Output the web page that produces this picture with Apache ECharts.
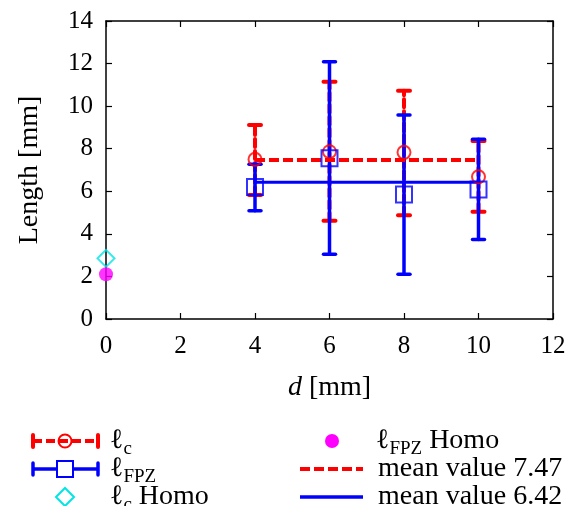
<!DOCTYPE html>
<html>
<head>
<meta charset="utf-8">
<script src="https://cdn.jsdelivr.net/npm/echarts@6/dist/echarts.min.js"></script>
<style>
html, body { margin: 0; padding: 0; background: #fff; }
#chart { width: 569px; height: 506px; }
</style>
</head>
<body>
<div id="chart"></div>
<script>
// spacing d [mm]
var positions = [4, 6, 8, 10];

// l_c : mean / upper / lower
var lcValue = [7.50, 7.86, 7.83, 6.68];
var lcHigh = [9.11, 11.15, 10.72, 8.36];
var lcLow = [5.82, 4.62, 4.88, 5.04];

// l_FPZ : mean / upper / lower
var fpzValue = [6.20, 7.55, 5.85, 6.08];
var fpzHigh = [7.27, 12.09, 9.58, 8.44];
var fpzLow = [5.09, 3.04, 2.10, 3.74];

// homogeneous results at d = 0
var lcHomo = [[0, 2.85]];
var fpzHomo = [[0, 2.10]];

// mean values
var lcMean = 7.47;
var fpzMean = 6.42;

var xTicks = [0, 12, 2];
var yTicks = [0, 14, 2];

var FONT = '"Liberation Serif", "DejaVu Serif", serif';
var RED = '#ff0000', BLUE = '#0000ff', CYAN = '#00e5e5', MAGENTA = '#ff00ff';

var chart = echarts.init(document.getElementById('chart'));

function zip3(a, b) {
    var out = [];
    for (var i = 0; i < positions.length; i++) {
        out.push([positions[i], a[i], b[i]]);
    }
    return out;
}
function zip2(a) {
    var out = [];
    for (var i = 0; i < positions.length; i++) {
        out.push([positions[i], a[i]]);
    }
    return out;
}

// vertical error bar with caps
function errorBar(color, width, dash) {
    return function (params, api) {
        var x = api.value(0);
        var lo = api.coord([x, api.value(1)]);
        var hi = api.coord([x, api.value(2)]);
        var half = 6;
        var base = {stroke: color, lineWidth: width, lineCap: 'round'};
        return {
            type: 'group',
            children: [
                {type: 'line', shape: {x1: lo[0], y1: lo[1], x2: hi[0], y2: hi[1]},
                    style: Object.assign({lineDash: dash}, base)},
                {type: 'line', shape: {x1: lo[0] - half, y1: lo[1], x2: lo[0] + half, y2: lo[1]},
                    style: Object.assign({}, base)},
                {type: 'line', shape: {x1: hi[0] - half, y1: hi[1], x2: hi[0] + half, y2: hi[1]},
                    style: Object.assign({}, base)}
            ]
        };
    };
}

function axisCommon(extra) {
    return Object.assign({
        type: 'value',
        splitLine: {show: false},
        axisLine: {show: true, onZero: false, lineStyle: {color: '#000', width: 1.5}},
        axisTick: {show: true, inside: true, length: 6, lineStyle: {color: '#000', width: 1.2}},
        axisLabel: {show: false}
    }, extra);
}

var labelStyle = {show: true, color: '#000', fontFamily: FONT, fontSize: 25};

// legend drawn by hand (error-bar style icons)
var legendText = {
    a: {fontFamily: FONT, fontSize: 28, color: '#000', verticalAlign: 'middle', lineHeight: 36},
    s: {fontFamily: FONT, fontSize: 19, color: '#000', verticalAlign: 'bottom', lineHeight: 19}
};
function legendLabel(x, y, text) {
    return {type: 'text', x: x, y: y,
        style: {text: text, rich: legendText, verticalAlign: 'middle', align: 'left'}};
}
var r1 = 441, r2 = 469, r3 = 497;
var c1a = 33, c1b = 98, c1m = 65, c2a = 300, c2b = 363, c2m = 332;
var graphics = [
    // l_c
    {type: 'line', shape: {x1: c1a, y1: r1, x2: c1b, y2: r1}, style: {stroke: RED, lineWidth: 4, lineDash: [9, 4]}},
    {type: 'line', shape: {x1: c1a, y1: r1 - 6, x2: c1a, y2: r1 + 6}, style: {stroke: RED, lineWidth: 4, lineCap: 'round'}},
    {type: 'line', shape: {x1: c1b, y1: r1 - 6, x2: c1b, y2: r1 + 6}, style: {stroke: RED, lineWidth: 4, lineCap: 'round'}},
    {type: 'circle', shape: {cx: c1m, cy: r1, r: 6.5}, style: {fill: 'none', stroke: RED, lineWidth: 2}},
    legendLabel(110, r1, '{a|ℓ}{s|c}'),
    // l_FPZ
    {type: 'line', shape: {x1: c1a, y1: r2, x2: c1b, y2: r2}, style: {stroke: BLUE, lineWidth: 3.5}},
    {type: 'line', shape: {x1: c1a, y1: r2 - 6, x2: c1a, y2: r2 + 6}, style: {stroke: BLUE, lineWidth: 3.5, lineCap: 'round'}},
    {type: 'line', shape: {x1: c1b, y1: r2 - 6, x2: c1b, y2: r2 + 6}, style: {stroke: BLUE, lineWidth: 3.5, lineCap: 'round'}},
    {type: 'rect', shape: {x: c1m - 8, y: r2 - 8, width: 16, height: 16}, style: {fill: '#fff', stroke: BLUE, lineWidth: 2}},
    legendLabel(110, r2, '{a|ℓ}{s|FPZ}'),
    // l_c Homo
    {type: 'polygon', shape: {points: [[c1m, r3 - 9], [c1m + 9, r3], [c1m, r3 + 9], [c1m - 9, r3]]}, style: {fill: 'none', stroke: CYAN, lineWidth: 2}},
    legendLabel(110, r3, '{a|ℓ}{s|c}{a| Homo}'),
    // l_FPZ Homo
    {type: 'circle', shape: {cx: c2m, cy: r1, r: 7}, style: {fill: MAGENTA}},
    legendLabel(376, r1, '{a|ℓ}{s|FPZ}{a| Homo}'),
    // means
    {type: 'line', shape: {x1: c2a, y1: r2, x2: c2b, y2: r2}, style: {stroke: RED, lineWidth: 4, lineDash: [10, 4]}},
    legendLabel(378, r2, '{a|mean value ' + lcMean.toFixed(2) + '}'),
    {type: 'line', shape: {x1: c2a, y1: r3, x2: c2b, y2: r3}, style: {stroke: BLUE, lineWidth: 3.5}},
    legendLabel(378, r3, '{a|mean value ' + fpzMean.toFixed(2) + '}')
];

chart.setOption({
    backgroundColor: '#fff',
    animation: false,
    grid: {left: 106, right: 16, top: 21, bottom: 187, show: false},
    xAxis: [
        axisCommon({
            min: xTicks[0], max: xTicks[1], interval: xTicks[2], position: 'bottom',
            axisLabel: Object.assign({margin: 15}, labelStyle),
            name: '{i|d} [mm]', nameLocation: 'middle', nameGap: 55,
            nameTextStyle: {fontFamily: FONT, fontSize: 28, color: '#000',
                rich: {i: {fontFamily: FONT, fontSize: 28, fontStyle: 'italic', color: '#000'}}}
        }),
        axisCommon({min: xTicks[0], max: xTicks[1], interval: xTicks[2], position: 'top'})
    ],
    yAxis: [
        axisCommon({
            min: yTicks[0], max: yTicks[1], interval: yTicks[2], position: 'left',
            axisLabel: Object.assign({margin: 13}, labelStyle),
            name: 'Length [mm]', nameLocation: 'middle', nameGap: 62,
            nameTextStyle: {fontFamily: FONT, fontSize: 28, color: '#000'}
        }),
        axisCommon({min: yTicks[0], max: yTicks[1], interval: yTicks[2], position: 'right'})
    ],
    graphic: graphics,
    series: [
        {
            name: 'lc error', type: 'custom', renderItem: errorBar(RED, 4, [8, 4]),
            data: zip3(lcLow, lcHigh), encode: {x: 0, y: [1, 2]}, z: 2
        },
        {
            name: 'fpz error', type: 'custom', renderItem: errorBar(BLUE, 3.5, null),
            data: zip3(fpzLow, fpzHigh), encode: {x: 0, y: [1, 2]}, z: 3
        },
        {
            name: 'mean lc', type: 'line', symbol: 'none', z: 4,
            data: [[positions[0], lcMean], [positions[positions.length - 1], lcMean]],
            lineStyle: {color: RED, width: 4, type: [10, 4]}
        },
        {
            name: 'mean fpz', type: 'line', symbol: 'none', z: 4,
            data: [[positions[0], fpzMean], [positions[positions.length - 1], fpzMean]],
            lineStyle: {color: BLUE, width: 3}
        },
        {
            name: 'lc', type: 'scatter', symbol: 'circle', symbolSize: 13, z: 5,
            data: zip2(lcValue),
            itemStyle: {color: 'rgba(0,0,0,0)', borderColor: RED, borderWidth: 2}
        },
        {
            name: 'fpz', type: 'scatter', symbol: 'rect', symbolSize: 16, z: 5,
            data: zip2(fpzValue),
            itemStyle: {color: 'rgba(0,0,0,0)', borderColor: BLUE, borderWidth: 2}
        },
        {
            name: 'lc Homo', type: 'scatter', symbol: 'diamond', symbolSize: 17, z: 5,
            data: lcHomo,
            itemStyle: {color: 'rgba(0,0,0,0)', borderColor: CYAN, borderWidth: 2}
        },
        {
            name: 'fpz Homo', type: 'scatter', symbol: 'circle', symbolSize: 14, z: 6,
            data: fpzHomo,
            itemStyle: {color: MAGENTA}
        }
    ]
});
</script>
</body>
</html>
